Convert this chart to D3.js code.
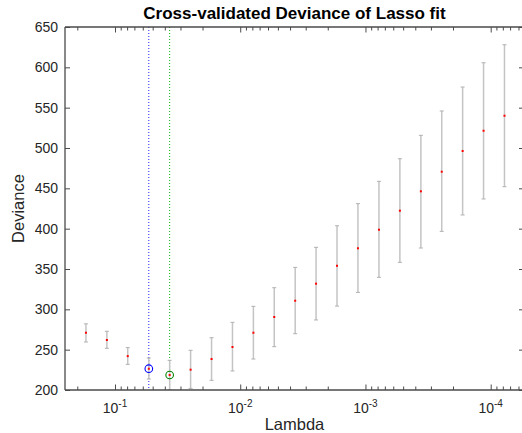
<!DOCTYPE html>
<html><head><meta charset="utf-8">
<script src="https://cdn.jsdelivr.net/npm/d3@7"></script>
<style>body{margin:0;background:#fff}svg{display:block}text{font-family:"Liberation Sans",Arial,Helvetica,sans-serif}</style>
</head><body>
<script>
const lambda = [0.1706, 0.1161, 0.0791, 0.0537, 0.0366, 0.0249, 0.01694, 0.01153, 0.00785, 0.00535, 0.00364, 0.00248, 0.001687, 0.001148, 0.000780, 0.000531, 0.000361, 0.000246, 0.0001675, 0.000114, 0.0000776];
const devMean = [271, 262, 242, 226.4, 218.6, 225.2, 238.4, 253.3, 271, 290.5, 310.7, 331.8, 354, 375.7, 398.7, 422.3, 446.3, 470.6, 496.3, 521.4, 540];
const devUpper = [282, 272.8, 252.5, 239.6, 236.8, 249.2, 264.8, 283.9, 303.7, 326.8, 352, 376.9, 403.6, 431, 458.7, 486.7, 515.7, 545.9, 575.6, 605.7, 628];
const devLower = [259.5, 251.7, 231.8, 213.6, 200.5, 202, 212, 223.6, 238.4, 253.7, 269.8, 286.8, 304, 321, 339.7, 358.3, 376, 396.7, 417, 436.8, 452];
const lambda1SE = 0.0537;
const lambdaMin = 0.0366;
const yTicks = [200, 250, 300, 350, 400, 450, 500, 550, 600, 650];
const xMajor = [1e-1, 1e-2, 1e-3, 1e-4];
const xMajorLabels = ["-1", "-2", "-3", "-4"];
const xDomain = [0.2507, 0.0000542];
const yDomain = [200, 650];

const W = 522, H = 433;
const L = 65, R = 524, T = 27, B = 390;
const svg = d3.select("body").append("svg").attr("width", W).attr("height", H);
const x = d3.scaleLog().domain(xDomain).range([L, R]);
const y = d3.scaleLinear().domain(yDomain).range([B, T]);

// minor ticks
const minor = [];
for (let e = -5; e <= 0; e++) for (let m = 2; m <= 9; m++) {
  const v = m * Math.pow(10, e);
  if (v <= xDomain[0] && v >= xDomain[1]) minor.push(v);
}
const axCol = "#4a4a4a";
const txtCol = "#262626";

const clip = svg.append("defs").append("clipPath").attr("id", "c")
  .append("rect").attr("x", L).attr("y", T).attr("width", R - L).attr("height", B - T);

const g = svg.append("g").attr("clip-path", "url(#c)");

// vertical reference lines
g.append("line").attr("x1", x(lambda1SE)).attr("x2", x(lambda1SE)).attr("y1", T).attr("y2", B)
  .attr("stroke", "#2020ff").attr("stroke-width", 1).attr("stroke-dasharray", "1,2");
g.append("line").attr("x1", x(lambdaMin)).attr("x2", x(lambdaMin)).attr("y1", T).attr("y2", B)
  .attr("stroke", "#10b010").attr("stroke-width", 1).attr("stroke-dasharray", "1,2");

// error bars
const idx = d3.range(lambda.length);
g.selectAll(".eb").data(idx).join("line")
  .attr("x1", i => x(lambda[i])).attr("x2", i => x(lambda[i]))
  .attr("y1", i => y(devLower[i])).attr("y2", i => y(devUpper[i]))
  .attr("stroke", "#c4c4c4").attr("stroke-width", 1.5);
[devLower, devUpper].forEach(arr => {
  g.selectAll(null).data(idx).join("line")
    .attr("x1", i => x(lambda[i]) - 2).attr("x2", i => x(lambda[i]) + 2)
    .attr("y1", i => y(arr[i])).attr("y2", i => y(arr[i]))
    .attr("stroke", "#b0b0b0").attr("stroke-width", 1);
});
// mean markers
g.selectAll(".mk").data(idx).join("rect")
  .attr("x", i => x(lambda[i]) - 1).attr("y", i => y(devMean[i]) - 1)
  .attr("width", 2).attr("height", 2).attr("fill", "#ff0000");

// circles
const i1 = lambda.indexOf(lambda1SE), i2 = lambda.indexOf(lambdaMin);
g.append("circle").attr("cx", x(lambda1SE)).attr("cy", y(devMean[i1])).attr("r", 3.8)
  .attr("fill", "none").attr("stroke", "#0000ff").attr("stroke-width", 1.1);
g.append("circle").attr("cx", x(lambdaMin)).attr("cy", y(devMean[i2])).attr("r", 3.8)
  .attr("fill", "none").attr("stroke", "#008000").attr("stroke-width", 1.1);

// axes
function styleAxis(sel) {
  sel.select(".domain").remove();
  sel.selectAll("line").attr("stroke", axCol);
  sel.selectAll("text").attr("fill", txtCol).style("font-size", "14px");
}
// left
svg.append("g").attr("transform", `translate(${L},0)`)
  .call(d3.axisLeft(y).tickValues(yTicks).tickSize(-5).tickPadding(7).tickFormat(d3.format("d")))
  .call(styleAxis);
// right ticks
svg.append("g").attr("transform", `translate(${R},0)`)
  .call(d3.axisRight(y).tickValues(yTicks).tickSize(-5).tickFormat(""))
  .call(styleAxis);
// bottom major + minor
svg.append("g").attr("transform", `translate(0,${B})`)
  .call(d3.axisBottom(x).tickValues(xMajor).tickSize(-5.5).tickFormat(""))
  .call(styleAxis);
svg.append("g").attr("transform", `translate(0,${B})`)
  .call(d3.axisBottom(x).tickValues(minor).tickSize(-3.5).tickFormat(""))
  .call(styleAxis);
svg.append("g").attr("transform", `translate(0,${T})`)
  .call(d3.axisTop(x).tickValues(xMajor).tickSize(-5.5).tickFormat(""))
  .call(styleAxis);
svg.append("g").attr("transform", `translate(0,${T})`)
  .call(d3.axisTop(x).tickValues(minor).tickSize(-3.5).tickFormat(""))
  .call(styleAxis);

// x tick labels with superscripts
xMajor.forEach((v, k) => {
  const t = svg.append("text").attr("x", x(v)).attr("y", 413).attr("text-anchor", "middle")
    .attr("fill", txtCol).style("font-size", "14px");
  t.append("tspan").text("10");
  t.append("tspan").attr("dy", -6).style("font-size", "10px").text(xMajorLabels[k]);
});

// axis lines
svg.append("line").attr("x1", L).attr("x2", L).attr("y1", T).attr("y2", B).attr("stroke", axCol).attr("stroke-width", 1.3);
svg.append("line").attr("x1", L).attr("x2", R).attr("y1", B).attr("y2", B).attr("stroke", axCol).attr("stroke-width", 1.3);
svg.append("line").attr("x1", L).attr("x2", R).attr("y1", T).attr("y2", T).attr("stroke", axCol).attr("stroke-width", 1.3);
svg.append("line").attr("x1", R).attr("x2", R).attr("y1", T).attr("y2", B).attr("stroke", axCol).attr("stroke-width", 1.3);

// labels
svg.append("text").attr("x", (L + R) / 2).attr("y", 19).attr("text-anchor", "middle")
  .style("font-size", "17px").style("font-weight", "bold").attr("fill", "#000")
  .text("Cross-validated Deviance of Lasso fit");
svg.append("text").attr("x", (L + R) / 2).attr("y", 430).attr("text-anchor", "middle")
  .style("font-size", "16.5px").attr("fill", txtCol).text("Lambda");
svg.append("text").attr("transform", `translate(24,${(T + B) / 2}) rotate(-90)`).attr("text-anchor", "middle")
  .style("font-size", "16.5px").attr("fill", txtCol).text("Deviance");
</script>
</body></html>
